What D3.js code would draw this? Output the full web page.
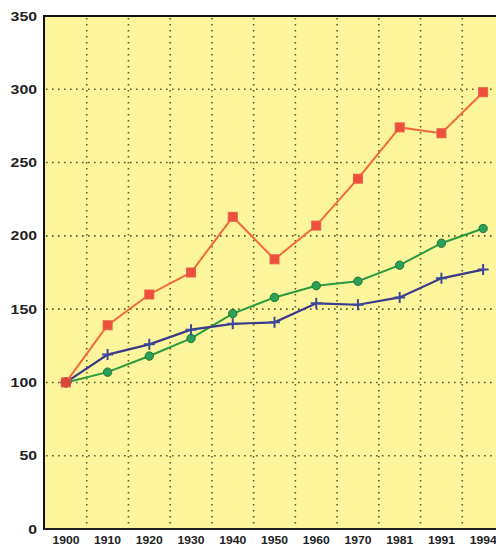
<!DOCTYPE html>
<html>
<head>
<meta charset="utf-8">
<script src="https://cdn.jsdelivr.net/npm/d3@7"></script>
<style>
  html, body { margin: 0; padding: 0; background: #ffffff; }
  svg { display: block; }
</style>
</head>
<body>
<svg id="chart" width="496" height="547"></svg>
<script>
const years = ["1900","1910","1920","1930","1940","1950","1960","1970","1981","1991","1994"];
const redSeries   = [100, 139, 160, 175, 213, 184, 207, 239, 274, 270, 298];
const greenSeries = [100, 107, 118, 130, 147, 158, 166, 169, 180, 195, 205];
const blueSeries  = [100, 119, 126, 136, 140, 141, 154, 153, 158, 171, 177];
const yTicks = [0, 50, 100, 150, 200, 250, 300, 350];

(function () {
const svg = d3.select("#chart");
const pLeft = 44, pTop = 16, pBottom = 529, pRight = 504;

const x = d3.scaleBand().domain(years).range([pLeft + 1, pRight]).paddingInner(0).paddingOuter(0);
const y = d3.scaleLinear().domain([0, 350]).range([pBottom, pTop]);
const cx = d => x(d) + x.bandwidth() / 2;

// plot background
svg.append("rect").attr("x", pLeft).attr("y", pTop).attr("width", 496 - pLeft).attr("height", pBottom - pTop)
  .attr("fill", "#fcf59c");

// horizontal grid
const gridColor = "#5d5a2e";
svg.append("g").selectAll("line").data(yTicks.filter(t => t > 0 && t < 350)).join("line")
  .attr("x1", pLeft + 2).attr("x2", 496).attr("y1", d => y(d)).attr("y2", d => y(d))
  .attr("stroke", gridColor).attr("stroke-width", 1.6).attr("stroke-dasharray", "1.6,4.4");

// vertical grid at band boundaries
svg.append("g").selectAll("line").data(years.slice(1)).join("line")
  .attr("x1", d => x(d)).attr("x2", d => x(d)).attr("y1", pTop + 2).attr("y2", pBottom)
  .attr("stroke", gridColor).attr("stroke-width", 1.6).attr("stroke-dasharray", "1.6,4.4");

// axes frame
svg.append("line").attr("x1", pLeft).attr("x2", pLeft).attr("y1", pTop - 1).attr("y2", pBottom + 1)
  .attr("stroke", "#111").attr("stroke-width", 2);
svg.append("line").attr("x1", pLeft).attr("x2", 496).attr("y1", pTop).attr("y2", pTop)
  .attr("stroke", "#111").attr("stroke-width", 2);
svg.append("line").attr("x1", pLeft).attr("x2", 496).attr("y1", pBottom).attr("y2", pBottom)
  .attr("stroke", "#222").attr("stroke-width", 2);

// y axis labels
const yAxis = d3.axisLeft(y).tickValues(yTicks).tickSize(0).tickPadding(7);
const gy = svg.append("g").attr("transform", `translate(${pLeft},0)`).call(yAxis);
gy.select(".domain").remove();
gy.selectAll("text")
  .attr("font-family", "Liberation Sans, Arial, sans-serif")
  .attr("font-weight", "bold").attr("font-size", 12.5).attr("fill", "#222")
  .attr("textLength", d => String(d).length * 8.8).attr("lengthAdjust", "spacingAndGlyphs");

// x axis labels
const xAxis = d3.axisBottom(x).tickSize(0).tickPadding(8);
const gx = svg.append("g").attr("transform", `translate(0,${pBottom})`).call(xAxis);
gx.select(".domain").remove();
gx.selectAll("text")
  .attr("font-family", "Liberation Sans, Arial, sans-serif")
  .attr("font-weight", "bold").attr("font-size", 10).attr("fill", "#222")
  .attr("textLength", 27).attr("lengthAdjust", "spacingAndGlyphs");

const line = d3.line().x((d, i) => cx(years[i])).y(d => y(d));

// green series
svg.append("path").datum(greenSeries).attr("d", line).attr("fill", "none")
  .attr("stroke", "#2a9a3c").attr("stroke-width", 2);
svg.append("g").selectAll("circle").data(greenSeries).join("circle")
  .attr("cx", (d, i) => cx(years[i])).attr("cy", d => y(d)).attr("r", 4.2)
  .attr("fill", "#2aa05a").attr("stroke", "#1e7a34").attr("stroke-width", 1);

// blue series
svg.append("path").datum(blueSeries).attr("d", line).attr("fill", "none")
  .attr("stroke", "#3a3a8a").attr("stroke-width", 2.2);
svg.append("g").selectAll("path").data(blueSeries).join("path")
  .attr("d", (d, i) => {
    const px = cx(years[i]), py = y(d), s = 5.5;
    return `M${px - s},${py}L${px + s},${py}M${px},${py - s}L${px},${py + s}`;
  })
  .attr("stroke", "#3b4a9c").attr("stroke-width", 2).attr("fill", "none");

// red series
svg.append("path").datum(redSeries).attr("d", line).attr("fill", "none")
  .attr("stroke", "#f26a3c").attr("stroke-width", 2);
svg.append("g").selectAll("rect").data(redSeries).join("rect")
  .attr("x", (d, i) => cx(years[i]) - 4.5).attr("y", d => y(d) - 4.5)
  .attr("width", 9).attr("height", 9)
  .attr("fill", "#ee4f3a").attr("stroke", "#e8604a").attr("stroke-width", 1);

// start point (shared 1900 value) drawn as a round marker
svg.append("circle").attr("cx", cx(years[0])).attr("cy", y(redSeries[0])).attr("r", 5)
  .attr("fill", "#d9473a");
})();
</script>
</body>
</html>
